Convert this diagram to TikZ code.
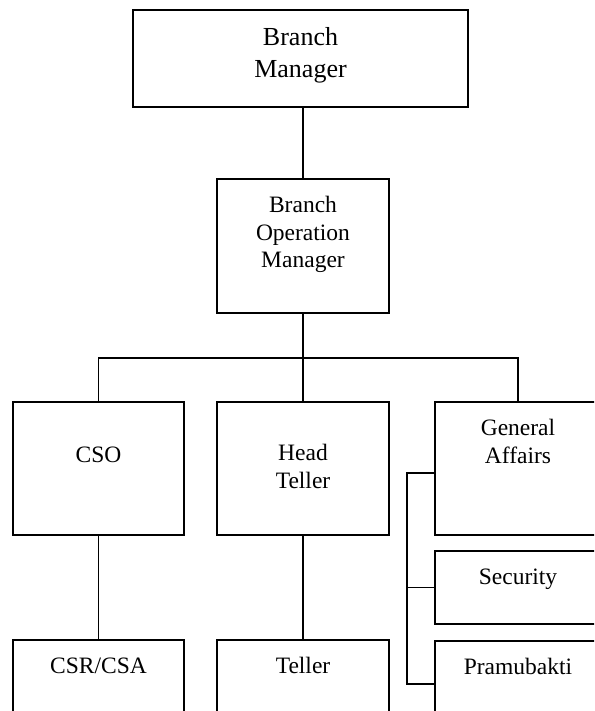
\documentclass[tikz,border=0pt]{standalone}
\usepackage{fontspec}
\setmainfont{Liberation Serif}
\usepackage{tikz}
\usetikzlibrary{positioning}
\newcommand{\boxw}{171pt}
\newcommand{\boxh}{133pt}

\begin{document}
\begin{tikzpicture}[x=1pt, y=-1pt]
            \tikzset{unit/.style = {draw, line width=1.4pt, minimum width=\boxw, minimum height=\boxh, inner sep=0pt}}
            \tikzset{caption/.style = {anchor=north, align=center, inner sep=0pt, yshift=-18pt, font=\fontsize{23.5}{27.5}\selectfont}}
            \tikzset{link/.style = {line width=1.1pt}}
            \useasboundingbox (0,0) rectangle (594,711);
            \clip (0,0) rectangle (594,711);

            \node[unit, minimum width=335pt, minimum height=97pt,
                label={[caption, font=\fontsize{26}{31.7}\selectfont]north:Branch\\Manager}] (bm) at (300.5,58.5) {};
            \node[unit, minimum width=172pt, minimum height=134pt,
                label={[caption]north:Branch\\Operation\\Manager}] (bom) at (303,246) {};

            \node[unit, label={[caption, yshift=-27pt]north:CSO}] (cso) at (98.5,468.5) {};
            \node[unit, minimum width=172pt, label={[caption, yshift=-25pt]north:Head\\Teller}] (ht) at (303,468.5) {};
            \node[unit, minimum width=166pt, label={[caption]north:General\\Affairs}] (ga) at (518,468.5) {};
            \node[unit, minimum width=166pt, minimum height=73pt, label={[caption]north:Security}] (sec) at (518,587.5) {};
            \node[unit, minimum width=166pt, label={[caption]north:Pramubakti}] (pram) at (518,707.5) {};

            \node[unit, label={[caption]north:CSR/CSA}] (csr) at (98.5,706.5) {};
            \node[unit, minimum width=172pt, label={[caption]north:Teller}] (teller) at (303,706.5) {};

            \coordinate (bus) at (303,358);
            \draw[link] (bom.north |- bm.south) -- (bom.north);
            \draw[link] (bom.south) -- (bus);
            \draw[link] (cso.north) |- (bus) -| (ga.north);
            \draw[link] (bus) -- (ht.north);
            \draw[link] (cso) -- (csr);
            \draw[link] (ht) -- (teller);

            \coordinate (railtop) at (407,473);
            \coordinate (railbot) at (407,684);
            \draw[link] (ga.west |- railtop) -- (railtop) -- (railbot) -- (pram.west |- railbot);
            \draw[link] (railtop |- sec.west) -- (sec.west);
        \end{tikzpicture}
\end{document}
